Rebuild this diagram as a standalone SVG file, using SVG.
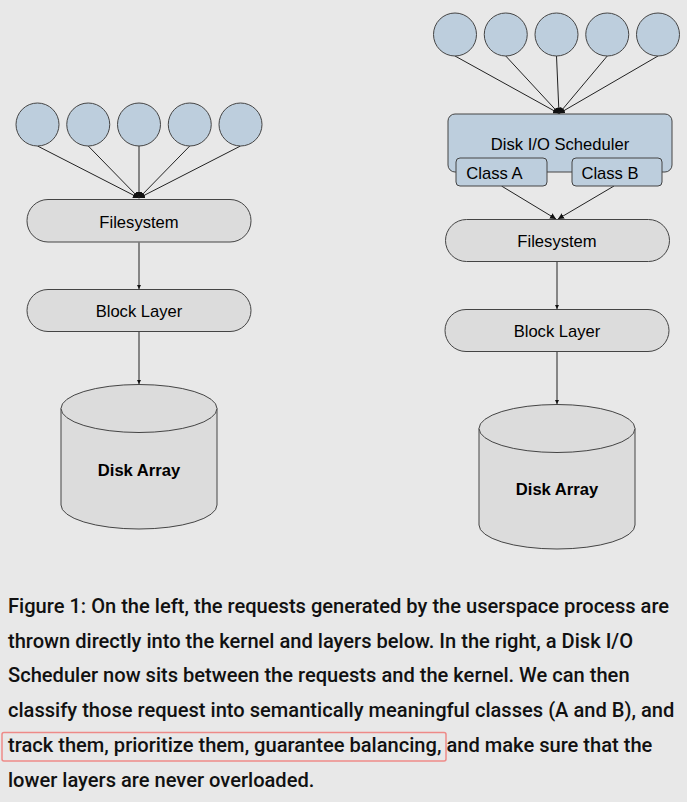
<svg xmlns="http://www.w3.org/2000/svg" width="687" height="802" viewBox="0 0 687 802">
<defs>
<style>
.bg{fill:#e8e8e8}
.req{fill:#bdcedd;stroke:#444;stroke-width:1}
.box{fill:#dcdcdc;stroke:#444;stroke-width:1}
.sched{fill:#bdcedd;stroke:#444;stroke-width:1}
.cyl{fill:#dcdcdc;stroke:#444;stroke-width:1}
.lbl{font-family:"Liberation Sans",Arial,sans-serif;font-size:16.6px;fill:#000;text-anchor:middle}
.bold{font-weight:bold}
.cap{font-family:Roboto,"Noto Sans",sans-serif;font-weight:500;font-size:20.1px;fill:#111}
.conn line{stroke:#222;stroke-width:1;fill:none}
</style>
<marker id="ah" viewBox="0 0 10 10" refX="10" refY="5" markerWidth="4" markerHeight="4" orient="auto" markerUnits="userSpaceOnUse">
<path d="M0,0 L10,5 L0,10 z" fill="#111"/>
</marker>
<marker id="ah2" viewBox="0 0 10 10" refX="10" refY="5" markerWidth="6" markerHeight="6" orient="auto" markerUnits="userSpaceOnUse">
<path d="M0,0 L10,5 L0,10 z" fill="#111"/>
</marker>
</defs>
<rect class="bg" x="0" y="0" width="687" height="802"/>

<g id="connectors" class="conn">
<line x1="37.5" y1="146" x2="139" y2="198" marker-end="url(#ah2)"/>
<line x1="88.25" y1="146" x2="139" y2="198" marker-end="url(#ah2)"/>
<line x1="139" y1="146" x2="139" y2="198" marker-end="url(#ah2)"/>
<line x1="189.75" y1="146" x2="139" y2="198" marker-end="url(#ah2)"/>
<line x1="240.5" y1="146" x2="139" y2="198" marker-end="url(#ah2)"/>
<line x1="139" y1="242.5" x2="139" y2="289" marker-end="url(#ah)"/>
<line x1="139" y1="331.5" x2="139" y2="384" marker-end="url(#ah)"/>

<line x1="455" y1="56" x2="559" y2="113.5" marker-end="url(#ah2)"/>
<line x1="505.75" y1="56" x2="559" y2="113.5" marker-end="url(#ah2)"/>
<line x1="556.5" y1="56" x2="559" y2="113.5" marker-end="url(#ah2)"/>
<line x1="607.25" y1="56" x2="559" y2="113.5" marker-end="url(#ah2)"/>
<line x1="658" y1="56" x2="559" y2="113.5" marker-end="url(#ah2)"/>
<line x1="501.5" y1="186" x2="556" y2="219" marker-end="url(#ah2)"/>
<line x1="614" y1="186" x2="558" y2="219" marker-end="url(#ah2)"/>
<line x1="557" y1="262" x2="557" y2="309" marker-end="url(#ah)"/>
<line x1="557" y1="351.5" x2="557" y2="404" marker-end="url(#ah)"/>
</g>

<g id="left-requests">
<circle class="req" cx="37.5" cy="124.5" r="21.5"/>
<circle class="req" cx="88.25" cy="124.5" r="21.5"/>
<circle class="req" cx="139" cy="124.5" r="21.5"/>
<circle class="req" cx="189.75" cy="124.5" r="21.5"/>
<circle class="req" cx="240.5" cy="124.5" r="21.5"/>
</g>
<g id="left-filesystem">
<rect class="box" x="27" y="199.5" width="224" height="42.5" rx="21" ry="21"/>
<text class="lbl" x="139" y="227.5">Filesystem</text>
</g>
<g id="left-blocklayer">
<rect class="box" x="27" y="289.5" width="224" height="42" rx="21" ry="21"/>
<text class="lbl" x="139" y="316.5">Block Layer</text>
</g>
<g id="left-diskarray">
<path class="cyl" d="M61,408.5 L61,505 A78,24 0 0 0 217,505 L217,408.5 A78,24 0 0 0 61,408.5 Z"/>
<path class="cyl" d="M61,408.5 A78,24 0 0 0 217,408.5" fill="none"/>
<text class="lbl bold" x="139" y="476">Disk Array</text>
</g>

<g id="right-requests">
<circle class="req" cx="455" cy="34.5" r="21.5"/>
<circle class="req" cx="505.75" cy="34.5" r="21.5"/>
<circle class="req" cx="556.5" cy="34.5" r="21.5"/>
<circle class="req" cx="607.25" cy="34.5" r="21.5"/>
<circle class="req" cx="658" cy="34.5" r="21.5"/>
</g>
<g id="scheduler">
<rect class="sched" x="448" y="114" width="224" height="58" rx="7" ry="7"/>
<text class="lbl" x="560" y="150">Disk I/O Scheduler</text>
</g>
<g id="classA">
<rect class="sched" x="456" y="158" width="91" height="28" rx="4" ry="4"/>
<text class="lbl" x="494.5" y="179">Class A</text>
</g>
<g id="classB">
<rect class="sched" x="572" y="158" width="90" height="28" rx="4" ry="4"/>
<text class="lbl" x="610" y="179">Class B</text>
</g>
<g id="right-filesystem">
<rect class="box" x="445.5" y="219.5" width="224" height="42" rx="21" ry="21"/>
<text class="lbl" x="557" y="246.5">Filesystem</text>
</g>
<g id="right-blocklayer">
<rect class="box" x="445" y="309.5" width="224" height="42" rx="21" ry="21"/>
<text class="lbl" x="557" y="337">Block Layer</text>
</g>
<g id="right-diskarray">
<path class="cyl" d="M479,428.5 L479,525 A78,24 0 0 0 635,525 L635,428.5 A78,24 0 0 0 479,428.5 Z"/>
<path class="cyl" d="M479,428.5 A78,24 0 0 0 635,428.5" fill="none"/>
<text class="lbl bold" x="557" y="495">Disk Array</text>
</g>

<g id="caption">
<rect x="2" y="732.5" width="444" height="28.5" rx="2" ry="2" fill="none" stroke="#ee8a88" stroke-width="1.5"/>
<text class="cap" x="8" y="613">Figure 1: On the left, the requests generated by the userspace process are</text>
<text class="cap" x="8" y="647.7">thrown directly into the kernel and layers below. In the right, a Disk I/O</text>
<text class="cap" x="8" y="682.4">Scheduler now sits between the requests and the kernel. We can then</text>
<text class="cap" x="8" y="717.1">classify those request into semantically meaningful classes (A and B), and</text>
<text class="cap" x="8" y="752">track them, prioritize them, guarantee balancing, and make sure that the</text>
<text class="cap" x="8" y="786.5">lower layers are never overloaded.</text>
</g>
</svg>
